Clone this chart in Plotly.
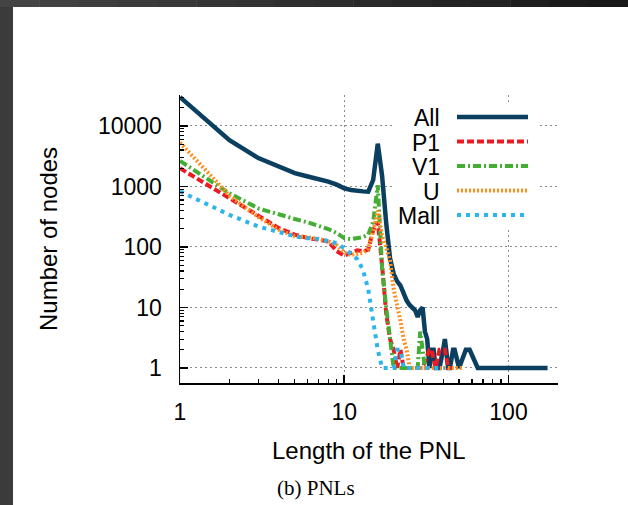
import plotly.graph_objects as go

# ---------------- data ----------------
all_x = [1, 2, 3, 4, 5, 6, 7, 8, 9, 10, 11, 12, 13, 14, 15, 16, 17, 18, 19, 20,
         21, 22, 23, 24, 25, 26, 27, 28, 29, 30, 31, 32, 33, 34, 35, 36, 38, 40,
         41, 43, 44, 46, 47, 50, 55, 58, 65, 80, 100, 130, 173]
all_y = [30000, 5800, 2950, 2100, 1660, 1460, 1320, 1200, 1070, 930, 875, 840, 830,
         820, 1280, 5100, 1500, 250, 65, 36, 27, 23, 17, 13, 11, 10, 9, 7, 9, 10,
         4, 3, 1, 2, 2, 1, 1, 2, 3, 1, 1, 2, 2, 1, 2, 2, 1, 1, 1, 1, 1]

p1_x = [1, 2, 3, 4, 5, 6, 7, 8, 9, 10, 11, 12, 13, 14, 15, 16, 17, 18, 19, 20,
        21, 22, 23, 24, 26, 28, 30, 33, 34, 36, 38, 39, 41, 43, 45]
p1_y = [2000, 640, 330, 205, 160, 140, 132, 123, 85, 72, 80, 88, 85, 90, 190, 260,
        50, 8, 3, 2, 1, 2, 1, 1, 1, 1, 1, 2, 2, 1, 2, 2, 2, 1, 1]

v1_x = [1, 2, 3, 4, 5, 6, 7, 8, 9, 10, 11, 12, 13, 14, 15, 16, 17, 18, 19, 20,
        21, 22, 23, 24, 25, 26, 27, 28, 29, 30, 31]
v1_y = [2650, 770, 435, 340, 290, 255, 225, 198, 170, 140, 135, 140, 145, 160, 260,
        1050, 45, 10, 3, 1, 1, 1, 1, 1, 1, 1, 1, 1, 4, 2, 1]

u_x = [1, 2, 3, 4, 5, 6, 7, 8, 9, 10, 11, 12, 13, 14, 15, 16, 17, 18, 19, 20,
       21, 22, 23, 24, 25, 27, 29, 31, 33, 35, 38, 41, 45, 48, 52]
u_y = [5300, 705, 313, 193, 150, 145, 135, 125, 107, 81, 74, 77, 80, 94, 180, 400,
       150, 100, 60, 20, 11, 6, 3, 2, 1, 1, 1, 1, 1, 1, 1, 1, 1, 1, 1]

m_x = [1, 2, 3, 4, 5, 6, 7, 8, 9, 10, 11, 12, 13, 14, 15, 16, 17, 18, 19, 20,
       21, 22, 23, 24, 25, 26, 28, 30, 33, 36, 38, 41]
m_y = [830, 340, 218, 180, 150, 140, 135, 125, 115, 95, 76, 63, 42, 20, 6, 2, 1,
       1, 1, 1, 2, 2, 1, 1, 1, 1, 1, 1, 1, 1, 1, 1]

series_names = ["All", "P1", "V1", "U", "Mall"]
x_tick_vals = [1, 10, 100]
y_tick_vals = [1, 10, 100, 1000, 10000]

# ---------------- styles ----------------
colors = {"All": "#0b3f5f", "P1": "#ec1b23", "V1": "#44ad33", "U": "#ff8f1c", "Mall": "#2bb4ee"}
dashes = {"All": "solid", "P1": "7px,3px", "V1": "8px,3px,2px,3px", "U": "2px,2px", "Mall": "4px,5px"}
widths = {"All": 4.5, "P1": 4, "V1": 4, "U": 4, "Mall": 4}
data = {"All": (all_x, all_y), "P1": (p1_x, p1_y), "V1": (v1_x, v1_y),
        "U": (u_x, u_y), "Mall": (m_x, m_y)}

fig = go.Figure()
for name in series_names:
    xs, ys = data[name]
    fig.add_trace(go.Scatter(x=xs, y=ys, mode="lines", name=name, hoverinfo="skip",
                             line=dict(color=colors[name], width=widths[name],
                                       dash=dashes[name])))

FONT = "Liberation Sans, Arial, Helvetica, sans-serif"
minor_x = [d * 10 ** k for k in range(0, 3) for d in range(2, 10)]
minor_y = [d * 10 ** k for k in range(0, 5) for d in range(2, 10)]

fig.update_xaxes(type="log", range=[0, 2.3015],
                 tickmode="array", tickvals=x_tick_vals, ticktext=[str(v) for v in x_tick_vals],
                 ticks="inside", ticklen=8, tickwidth=1.5, tickcolor="black",
                 showline=True, linecolor="black", linewidth=1.5,
                 showgrid=True, gridcolor="#8a8a8a", griddash="2px,3px", gridwidth=1,
                 zeroline=False, tickfont=dict(family=FONT, size=23, color="black"),
                 ticklabelstandoff=8,
                 minor=dict(tickmode="array", tickvals=minor_x, ticks="inside",
                            ticklen=4, tickwidth=1.2, tickcolor="black", showgrid=False))
fig.update_yaxes(type="log", range=[-0.248, 4.512],
                 tickmode="array", tickvals=y_tick_vals, ticktext=[str(v) for v in y_tick_vals],
                 ticks="inside", ticklen=8, tickwidth=1.5, tickcolor="black",
                 showline=True, linecolor="black", linewidth=1.5,
                 showgrid=True, gridcolor="#8a8a8a", griddash="2px,3px", gridwidth=1,
                 zeroline=False, tickfont=dict(family=FONT, size=23, color="black"),
                 ticklabelstandoff=12,
                 minor=dict(tickmode="array", tickvals=minor_y, ticks="inside",
                            ticklen=4, tickwidth=1.2, tickcolor="black", showgrid=False))

# ---------------- pixel -> paper helpers for decorations ----------------
L, R, T, B = 180, 558, 95, 383
def px(xp):
    return (xp - L) / (R - L)
def py(yp):
    return (B - yp) / (B - T)

shapes = []
annotations = []

# legend background + samples
shapes.append(dict(type="rect", xref="paper", yref="paper", layer="above",
                   x0=px(395), x1=px(537), y0=py(227), y1=py(103),
                   fillcolor="white", line=dict(width=0)))
legend_rows = [117, 141.5, 166, 190.5, 215]
for name, ry in zip(series_names, legend_rows):
    shapes.append(dict(type="line", xref="paper", yref="paper", layer="above",
                       x0=px(457), x1=px(528), y0=py(ry), y1=py(ry),
                       line=dict(color=colors[name], width=widths[name], dash=dashes[name])))
    annotations.append(dict(text=name, xref="paper", yref="paper", x=px(442), y=py(ry + 1),
                            xanchor="right", yanchor="middle", showarrow=False,
                            font=dict(family=FONT, size=23, color="black")))

# titles and caption
annotations.append(dict(text="Number of nodes", xref="paper", yref="paper",
                        x=px(48), y=py(239), textangle=-90, showarrow=False,
                        xanchor="center", yanchor="middle",
                        font=dict(family=FONT, size=24, color="black")))
annotations.append(dict(text="Length of the PNL", xref="paper", yref="paper",
                        x=px(368), y=py(450), showarrow=False,
                        xanchor="center", yanchor="middle",
                        font=dict(family=FONT, size=24, color="black")))
annotations.append(dict(text="(b) PNLs", xref="paper", yref="paper",
                        x=px(316), y=py(488), showarrow=False,
                        xanchor="center", yanchor="middle",
                        font=dict(family="Liberation Serif, Times New Roman, serif", size=21,
                                  color="black")))

# dark screenshot frame: left strip + top gradient strip
shapes.append(dict(type="rect", xref="paper", yref="paper", layer="above",
                   x0=px(0), x1=px(13), y0=py(505), y1=py(0),
                   fillcolor="#3b3b3b", line=dict(width=0)))
n_seg = 16
for i in range(n_seg):
    t = i / (n_seg - 1)
    c = int(round(0x44 + (0x18 - 0x44) * t))
    x0 = i * 628 / n_seg
    x1 = (i + 1) * 628 / n_seg + 0.5
    shapes.append(dict(type="rect", xref="paper", yref="paper", layer="above",
                       x0=px(x0), x1=px(x1), y0=py(7), y1=py(0),
                       fillcolor="#%02x%02x%02x" % (c, c, c), line=dict(width=0)))

fig.update_layout(width=628, height=505,
                  margin=dict(l=L, r=628 - R, t=T, b=505 - B, autoexpand=False),
                  paper_bgcolor="white", plot_bgcolor="white", showlegend=False,
                  hovermode=False, shapes=shapes, annotations=annotations)

fig.write_html("out.html", config={"displayModeBar": False, "staticPlot": True},
               post_script="document.body.style.margin='0';document.body.style.padding='0';"
                           "document.body.style.overflow='hidden';")
